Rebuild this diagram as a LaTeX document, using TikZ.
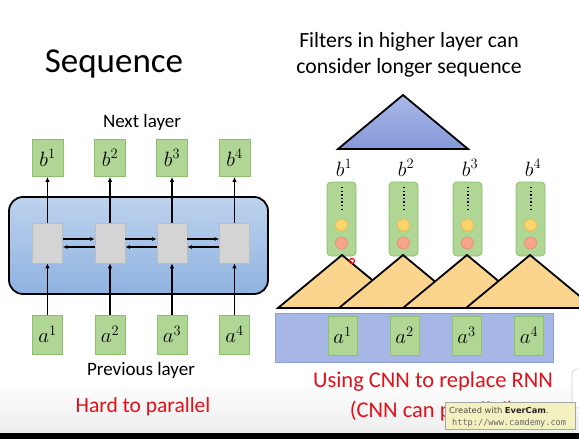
\documentclass[tikz,border=0pt]{standalone}
\usepackage{fontspec}
\setmainfont{Carlito}
\newfontfamily\wmsans{DejaVu Sans}
\newfontfamily\wmmono{DejaVu Sans Mono}
\usetikzlibrary{arrows.meta}
\definecolor{gfill}{HTML}{AFD694}
\definecolor{gline}{HTML}{8DBF6E}
\definecolor{btop}{HTML}{BDD3EE}
\definecolor{bbot}{HTML}{8FB2E0}
\definecolor{grayf}{HTML}{D4D4D4}
\definecolor{grayl}{HTML}{BDBDBD}
\definecolor{tribt}{HTML}{A9B8E8}
\definecolor{tribb}{HTML}{8599D8}
\definecolor{trio}{HTML}{FBD48E}
\definecolor{rectb}{HTML}{A6B7E6}
\definecolor{rectbl}{HTML}{8E9FD6}
\definecolor{yel}{HTML}{FDD36B}
\definecolor{yell}{HTML}{F0B84A}
\definecolor{sal}{HTML}{F6A58A}
\definecolor{sall}{HTML}{E88A70}
\definecolor{redt}{HTML}{E3101A}
\definecolor{wmfill}{HTML}{F3F1BF}
\begin{document}
\begin{tikzpicture}[x=1pt,y=-1pt,
  sqbox/.style={draw=gline, fill=gfill, line width=0.8pt, minimum width=31pt, minimum height=37pt, inner sep=0pt, font=\fontsize{20}{24}\selectfont},
  abox/.style={draw=gline, fill=gfill, line width=0.8pt, minimum width=30pt, minimum height=39pt, inner sep=0pt, font=\fontsize{20}{24}\selectfont},
  tallbox/.style={draw=gline, fill=gfill, line width=0.8pt, rounded corners=4pt, minimum width=29pt, minimum height=74pt, inner sep=0pt},
  cell/.style={draw=grayl, fill=grayf, line width=0.6pt, minimum width=30pt, minimum height=40pt, inner sep=0pt},
  arr/.style={line width=1.3pt, -{Latex[length=5pt,width=4.5pt]}},
  harr/.style={line width=1.3pt, -{Latex[length=4.5pt,width=4pt]}},
  lbl/.style={font=\fontsize{19}{22}\selectfont, anchor=base},
  redlbl/.style={font=\fontsize{22.5}{26}\selectfont, text=redt, anchor=base},
  tri/.style={draw=black, line width=1.8pt, line join=miter},
  blab/.style={font=\fontsize{21}{24}\selectfont},
  dotline/.style={line width=2pt, dash pattern=on 1.4pt off 2.2pt},
  yc/.style={circle, draw=yell, fill=yel, line width=0.6pt, minimum size=12pt, inner sep=0pt},
  sc/.style={circle, draw=sall, fill=sal, line width=0.6pt, minimum size=12pt, inner sep=0pt}
]
\useasboundingbox (0,0) rectangle (579,439);
\fill[white] (0,0) rectangle (579,439);
\shade[top color=white, bottom color=black!7] (0,380) rectangle (579,433);

% ---------- left: RNN ----------
\node[font=\fontsize{35}{40}\selectfont, anchor=base] (title) at (114,72) {Sequence};
\node[lbl] (next) at (142,127) {Next layer};

\draw[line width=1.8pt, rounded corners=14pt, top color=btop, bottom color=bbot] (9,197) rectangle (268,294);

\foreach \i/\x in {1/47.5,2/110,3/172,4/234.5}{
  \node[sqbox] (b\i) at (\x,158) {$b^{\i}$};
  \node[cell] (c\i) at (\x,243) {};
  \node[abox] (a\i) at (\x,334.5) {$a^{\i}$};
  \draw[arr] (c\i.north) -- (b\i.south);
  \draw[arr] (a\i.north) -- (c\i.south);
}
\foreach \i/\j in {1/2,2/3,3/4}{
  \draw[harr] ([yshift=-4pt]c\j.west) -- ([yshift=-4pt]c\i.east);
  \draw[harr] ([yshift=4pt]c\i.east) -- ([yshift=4pt]c\j.west);
}
\node[lbl] (prev) at (141,375) {Previous layer};
\node[redlbl, font=\fontsize{21.5}{25}\selectfont] (hard) at (143,412) {Hard to parallel};

% ---------- right: CNN ----------
\node[font=\fontsize{21.7}{26}\selectfont, anchor=base] (f1) at (409,47) {Filters in higher layer can};
\node[font=\fontsize{21.7}{26}\selectfont, anchor=base] (f2) at (409,73) {consider longer sequence};

\draw[tri, top color=tribt, bottom color=tribb] (403,95) -- (338,149) -- (468,149) -- cycle;

\foreach \i/\x in {1/341.5,2/403.5,3/467.5,4/530.5}{
  \node[blab] (rb\i) at (\x+2.5,168) {$b^{\i}$};
  \node[tallbox] (t\i) at (\x,219) {};
  \coordinate (dt\i) at (\x,187);
  \coordinate (db\i) at (\x,212);
  \draw[dotline] (dt\i) -- (db\i);
  \node[yc] (y\i) at (\x,225) {};
  \node[sc] (s\i) at (\x,243) {};
}

\fill[rectb] (275,313) rectangle (553,362);
\draw[rectbl, line width=0.6pt] (275,313) rectangle (553,362);

\begin{scope}
\clip (0,0) rectangle (579,439);
\foreach \x in {342,403,467,530}{
  \draw[tri, fill=trio] (\x,255) -- (\x-64,308) -- (\x+64,308) -- cycle;
}
\end{scope}

\foreach \i/\x in {1/342.5,2/404.5,3/466.5,4/529}{
  \node[abox, minimum width=29pt] (ra\i) at (\x,335.5) {$a^{\i}$};
}

\node[redlbl] (u1) at (433,387) {Using CNN to replace RNN};
\node[redlbl] (u2) at (432,417) {(CNN can parallel)};

% cursor mark
\node[circle, draw=red, line width=1.2pt, minimum size=5pt, inner sep=0pt] (cur) at (352,261) {};

% side UI element
\draw[black!20, fill=white, rounded corners=5pt, line width=0.6pt] (572,369) rectangle (590,408);

% watermark
\draw[black!35, fill=wmfill, line width=0.5pt] (445,402) rectangle (575,429);
\node[font=\wmsans\fontsize{8.3}{10}\selectfont, text=black!70, anchor=base west, inner sep=0pt] (wm1) at (449,413) {Created with \textbf{\color{black!85}EverCam}.};
\node[font=\wmmono\fontsize{8.6}{10}\selectfont, text=black!60, anchor=base west, inner sep=0pt] (wm2) at (452,425.5) {http://www.camdemy.com};

% bottom bar
\fill[black] (0,433) rectangle (579,439);
\end{tikzpicture}
\end{document}
